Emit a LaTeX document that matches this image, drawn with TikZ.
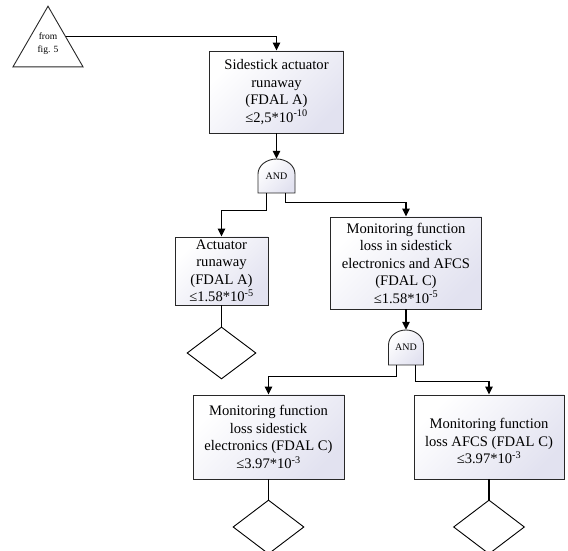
\documentclass[tikz,border=0pt]{standalone}
\usepackage{fontspec}
\setmainfont{Liberation Serif}
\usetikzlibrary{shapes.geometric,arrows.meta}
\definecolor{boxgrey}{RGB}{226,226,240}
\definecolor{edgegrey}{RGB}{40,40,40}
\tikzset{
  box/.style={draw=edgegrey, line width=0.9pt, top color=white, bottom color=boxgrey,
    shading angle=45, align=center, inner sep=0pt,
    font=\fontsize{14.6}{17.5}\selectfont},
  gatefill/.style={draw=edgegrey, line width=0.9pt, top color=white, bottom color=boxgrey, shading angle=45},
  gatelabel/.style={rectangle, inner sep=0pt, font=\fontsize{10}{12}\selectfont},
  diam/.style={diamond, draw=black, line width=0.9pt, fill=white, inner sep=0pt},
  tri/.style={regular polygon, regular polygon sides=3, draw=edgegrey, line width=0.9pt, fill=white, inner sep=0pt},
  arr/.style={-{Triangle[length=8pt,width=7.5pt]}, line width=1.1pt},
  conn/.style={line width=1.1pt},
}
\begin{document}
\begin{tikzpicture}[x=1pt,y=1pt]
\useasboundingbox (0,0) rectangle (568,551);
\clip (0,0) rectangle (568,551);
% triangle
\node[tri, minimum size=81pt] (tri) at (48,504.3) {};
\node[align=center, inner sep=0pt, font=\fontsize{9.5}{13}\selectfont] (trilab) at (48,507.5) {from\\fig. 5};
% boxes
\node[box, minimum width=134pt, minimum height=82pt] (top) at (276.5,459)
  {Sidestick actuator\\runaway\\(FDAL A)\\≤2,5*10\textsuperscript{-10}};
\node[box, minimum width=93pt, minimum height=68pt] (act) at (221.5,280)
  {Actuator\\runaway\\(FDAL A)\\≤1.58*10\textsuperscript{-5}};
\node[box, minimum width=151pt, minimum height=92pt] (mon) at (406,288)
  {Monitoring function\\loss in sidestick\\electronics and AFCS\\(FDAL C)\\≤1.58*10\textsuperscript{-5}};
\node[box, minimum width=151pt, minimum height=84pt] (bl) at (268.5,114)
  {Monitoring function\\loss sidestick\\electronics (FDAL C)\\≤3.97*10\textsuperscript{-3}};
\node[box, minimum width=150pt, minimum height=84pt] (br) at (489,114)
  {\rule{0pt}{19pt}Monitoring function\\loss AFCS (FDAL C)\\≤3.97*10\textsuperscript{-3}};
% gates
\path[gatefill] (258,358) -- (258,377) arc[start angle=180,end angle=0,x radius=18.5,y radius=15] -- (295,358) -- cycle;
\node[gatelabel, minimum width=37pt, minimum height=34pt] (g1) at (276.5,375) {AND};
\path[gatefill] (388.5,186) -- (388.5,206) arc[start angle=180,end angle=0,x radius=17.5,y radius=15] -- (423.5,186) -- cycle;
\node[gatelabel, minimum width=35pt, minimum height=35pt] (g2) at (406,203.5) {AND};
% diamonds
\node[diam, minimum width=69pt, minimum height=52pt] (d1) at (221.5,198) {};
\node[diam, minimum width=71pt, minimum height=54pt] (d2) at (268.5,24) {};
\node[diam, minimum width=71pt, minimum height=54pt] (d3) at (489,24) {};
% connectors
\draw[arr] (tri.side 3) -| (top.north);
\draw[arr] (top.south) -- (g1.north);
\draw[arr] ([xshift=9pt]g1.south west) -- ++(0,-17) -| (act.north);
\draw[arr] ([xshift=-10pt]g1.south east) -- ++(0,-9) -| (mon.north);
\draw[conn] (act.south) -- (d1.north);
\draw[arr] (mon.south) -- (g2.north);
\draw[arr] ([xshift=8.5pt]g2.south west) -- ++(0,-11) -| (bl.north);
\draw[arr] ([xshift=-8.5pt]g2.south east) -- ++(0,-16) -| (br.north);
\draw[conn] (bl.south) -- (d2.north);
\draw[conn] (br.south) -- (d3.north);
\end{tikzpicture}
\end{document}
